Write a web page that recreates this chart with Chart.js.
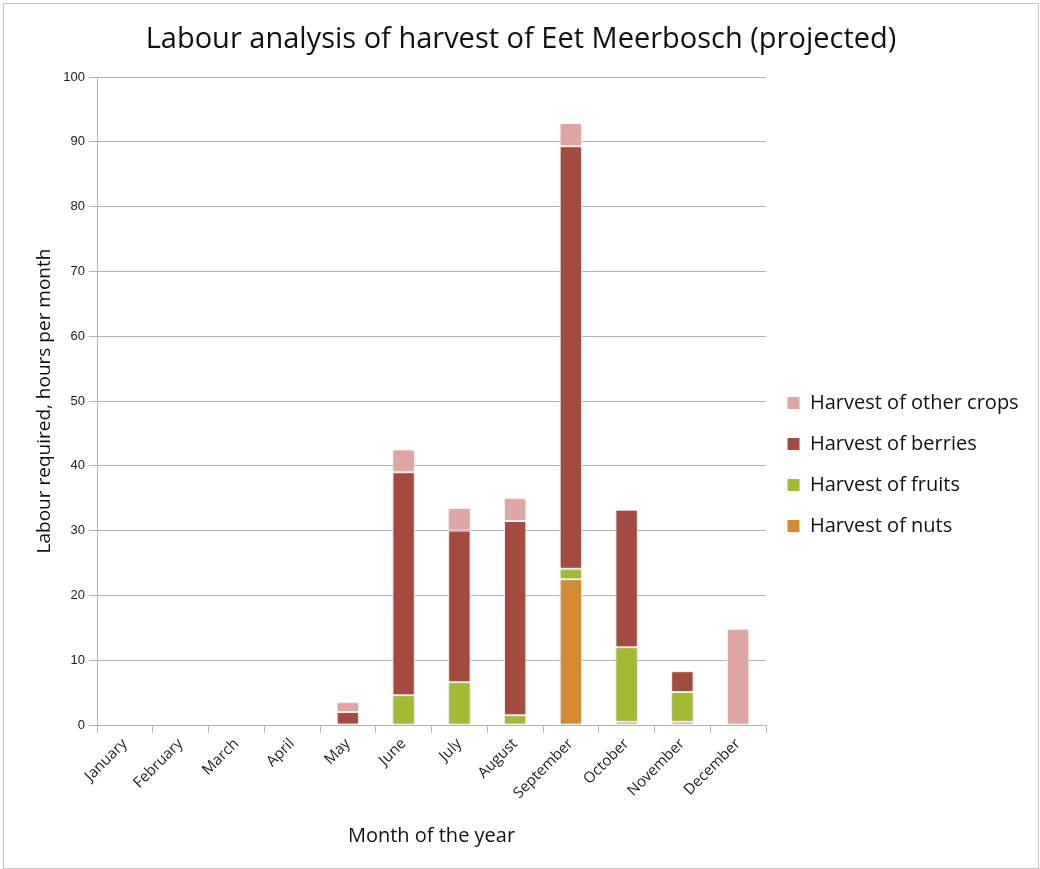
<!DOCTYPE html>
<html>
<head>
<meta charset="utf-8">
<title>Labour analysis of harvest</title>
<script src="https://cdn.jsdelivr.net/npm/chart.js@4.4.1/dist/chart.umd.min.js"></script>
<style>
  html, body { margin: 0; padding: 0; background: #fff; }
  #wrap { position: relative; width: 1040px; height: 869px; }
  #frame {
    position: absolute; left: 3px; top: 3px; width: 1034px; height: 864px;
    border: 1.5px solid #c2c2c2; border-bottom-width: 1px; pointer-events: none;
  }
  canvas { position: absolute; left: 0; top: 0; }
</style>
</head>
<body>
<div id="wrap">
  <canvas id="harvestChart" width="1040" height="869"></canvas>
  <div id="frame"></div>
</div>
<script>
"use strict";

const months = ["January", "February", "March", "April", "May", "June",
                "July", "August", "September", "October", "November", "December"];

// hours per month, stacked bottom to top
const nutsHours   = [0, 0, 0, 0, 0,   0,    0,    0,    22.5, 0.5,  0.5, 0];
const fruitsHours = [0, 0, 0, 0, 0,   4.6,  6.6,  1.5,  1.6,  11.5, 4.6, 0];
const berryHours  = [0, 0, 0, 0, 2.0, 34.4, 23.4, 30.0, 65.2, 21.2, 3.2, 0];
const otherHours  = [0, 0, 0, 0, 1.5, 3.5,  3.5,  3.5,  3.6,  0,    0,   14.8];

const yTicks = [0, 10, 20, 30, 40, 50, 60, 70, 80, 90, 100];

const COLORS = {
  nuts:   "#d48a33",
  fruits: "#a3ba33",
  berry:  "#a34a41",
  other:  "#e0a6a3"
};

const LABEL_FONT = "'Open Sans', Lato, sans-serif";
const GRID = "#b4b4b4";

function barSet(label, data, color) {
  return {
    label: label,
    data: data,
    backgroundColor: color,
    borderColor: "#ffffff",
    borderWidth: 1,
    borderSkipped: false,
    barPercentage: 0.4,
    categoryPercentage: 1.0
  };
}

// soft grey halo around the bars
const barShadow = {
  id: "barShadow",
  beforeDatasetsDraw(chart) {
    const ctx = chart.ctx;
    ctx.save();
    ctx.shadowColor = "rgba(0,0,0,0.22)";
    ctx.shadowBlur = 3;
    ctx.shadowOffsetX = 0;
    ctx.shadowOffsetY = 0;
  },
  afterDatasetsDraw(chart) {
    chart.ctx.restore();
  }
};

// title sits a little right of the canvas centre
const titleShift = {
  id: "titleShift",
  afterLayout(chart) {
    if (chart.titleBlock) {
      chart.titleBlock.left += 9;
      chart.titleBlock.right += 9;
    }
  }
};

// the legend box is capped at a quarter of the inner width, so the
// paddings also set where the plot area ends
const padLeft = 4;
const padRight = 20;
const legendPad = 21;
const legendSize = 20;

new Chart(document.getElementById("harvestChart").getContext("2d"), {
  type: "bar",
  data: {
    labels: months,
    datasets: [
      barSet("Harvest of nuts", nutsHours, COLORS.nuts),
      barSet("Harvest of fruits", fruitsHours, COLORS.fruits),
      barSet("Harvest of berries", berryHours, COLORS.berry),
      barSet("Harvest of other crops", otherHours, COLORS.other)
    ]
  },
  plugins: [barShadow, titleShift],
  options: {
    responsive: false,
    animation: false,
    layout: { padding: { left: padLeft, right: padRight, top: 0, bottom: 0 } },
    plugins: {
      tooltip: { enabled: false },
      title: {
        display: true,
        text: "Labour analysis of harvest of Eet Meerbosch (projected)",
        color: "#111",
        font: { family: LABEL_FONT, size: 29, weight: "normal" },
        padding: { top: 22.6, bottom: 19.6 }
      },
      legend: {
        position: "right",
        align: "start",
        reverse: true,
        title: {
          display: true,
          text: " ",
          font: { size: 1 },
          padding: { top: 403 - legendSize / 2 - legendPad - 1.2, bottom: 0 }
        },
        labels: {
          boxWidth: 13,
          boxHeight: 13,
          padding: legendPad,
          color: "#111",
          font: { family: LABEL_FONT, size: legendSize }
        }
      }
    },
    scales: {
      x: {
        stacked: true,
        afterFit(scale) { scale.height = 144; },
        grid: {
          drawOnChartArea: false,
          drawTicks: true,
          tickLength: 8,
          color: GRID
        },
        border: { color: GRID },
        ticks: {
          color: "#222",
          maxRotation: 45,
          minRotation: 45,
          padding: 2,
          font: { family: LABEL_FONT, size: 15 }
        },
        title: {
          display: true,
          text: "Month of the year",
          color: "#111",
          font: { family: LABEL_FONT, size: 20 },
          padding: { top: 4, bottom: 21 }
        }
      },
      y: {
        stacked: true,
        min: 0,
        max: 100,
        afterFit(scale) { scale.width = 97 - padLeft; },
        afterBuildTicks(scale) { scale.ticks = yTicks.map(v => ({ value: v })); },
        grid: { color: GRID, tickLength: 8 },
        border: { color: GRID },
        ticks: {
          color: "#222",
          padding: 4,
          font: { family: "'Liberation Sans', Arial, sans-serif", size: 13 }
        },
        title: {
          display: true,
          text: "Labour required, hours per month",
          color: "#111",
          font: { family: LABEL_FONT, size: 19 },
          padding: { top: 33.6 - padLeft, bottom: 4 }
        }
      }
    }
  }
});
</script>
</body>
</html>
